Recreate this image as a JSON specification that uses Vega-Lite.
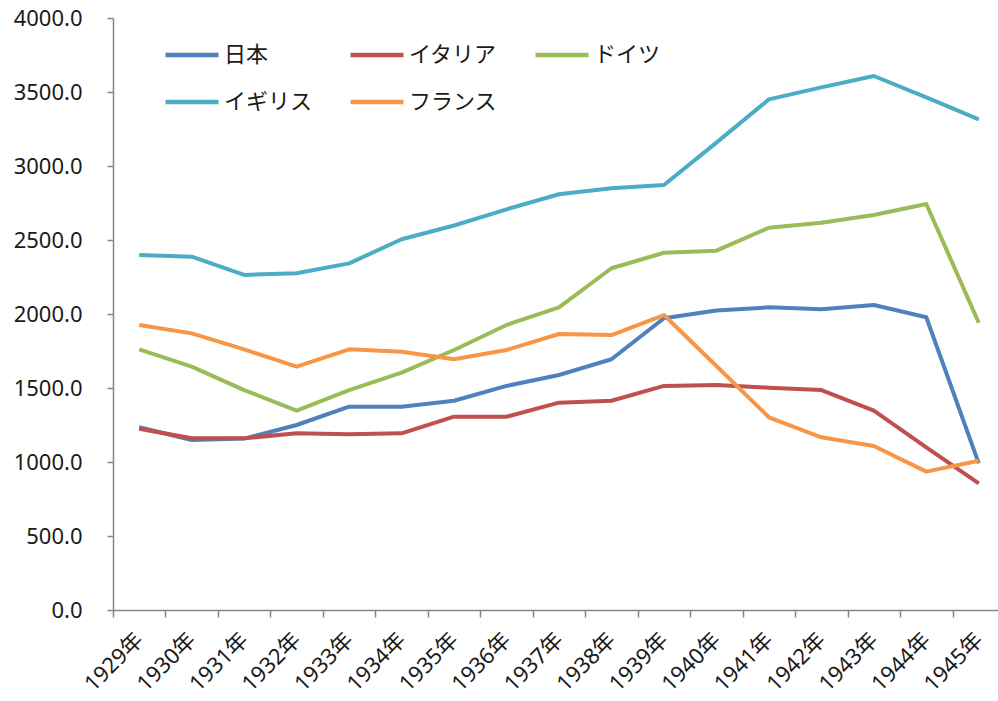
{
  "$schema": "https://vega.github.io/schema/vega-lite/v6.json",
  "autosize": {"type": "none"},
  "padding": {"left": 113, "top": 18, "right": 0, "bottom": 91},
  "width": 885,
  "height": 592,
  "background": "white",
  "config": {
    "view": {"stroke": null},
    "font": "Noto Sans CJK JP",
    "axis": {"grid": false, "domainColor": "#868686", "tickColor": "#868686", "domainWidth": 1.5, "tickWidth": 1.5, "labelColor": "#1a1a1a", "title": null}
  },
  "data": {
    "values": [
      {"year": "1929年", "country": "日本", "value": 1235},
      {"year": "1930年", "country": "日本", "value": 1149},
      {"year": "1931年", "country": "日本", "value": 1158},
      {"year": "1932年", "country": "日本", "value": 1250},
      {"year": "1933年", "country": "日本", "value": 1374},
      {"year": "1934年", "country": "日本", "value": 1374},
      {"year": "1935年", "country": "日本", "value": 1414},
      {"year": "1936年", "country": "日本", "value": 1514},
      {"year": "1937年", "country": "日本", "value": 1588},
      {"year": "1938年", "country": "日本", "value": 1694},
      {"year": "1939年", "country": "日本", "value": 1971},
      {"year": "1940年", "country": "日本", "value": 2023},
      {"year": "1941年", "country": "日本", "value": 2045},
      {"year": "1942年", "country": "日本", "value": 2032},
      {"year": "1943年", "country": "日本", "value": 2061},
      {"year": "1944年", "country": "日本", "value": 1978},
      {"year": "1945年", "country": "日本", "value": 991},
      {"year": "1929年", "country": "イタリア", "value": 1225},
      {"year": "1930年", "country": "イタリア", "value": 1160},
      {"year": "1931年", "country": "イタリア", "value": 1160},
      {"year": "1932年", "country": "イタリア", "value": 1194},
      {"year": "1933年", "country": "イタリア", "value": 1187},
      {"year": "1934年", "country": "イタリア", "value": 1194},
      {"year": "1935年", "country": "イタリア", "value": 1306},
      {"year": "1936年", "country": "イタリア", "value": 1306},
      {"year": "1937年", "country": "イタリア", "value": 1401},
      {"year": "1938年", "country": "イタリア", "value": 1414},
      {"year": "1939年", "country": "イタリア", "value": 1514},
      {"year": "1940年", "country": "イタリア", "value": 1520},
      {"year": "1941年", "country": "イタリア", "value": 1502},
      {"year": "1942年", "country": "イタリア", "value": 1486},
      {"year": "1943年", "country": "イタリア", "value": 1347},
      {"year": "1944年", "country": "イタリア", "value": 1099},
      {"year": "1945年", "country": "イタリア", "value": 856},
      {"year": "1929年", "country": "ドイツ", "value": 1761},
      {"year": "1930年", "country": "ドイツ", "value": 1644},
      {"year": "1931年", "country": "ドイツ", "value": 1486},
      {"year": "1932年", "country": "ドイツ", "value": 1347},
      {"year": "1933年", "country": "ドイツ", "value": 1486},
      {"year": "1934年", "country": "ドイツ", "value": 1604},
      {"year": "1935年", "country": "ドイツ", "value": 1757},
      {"year": "1936年", "country": "ドイツ", "value": 1926},
      {"year": "1937年", "country": "ドイツ", "value": 2045},
      {"year": "1938年", "country": "ドイツ", "value": 2309},
      {"year": "1939年", "country": "ドイツ", "value": 2414},
      {"year": "1940年", "country": "ドイツ", "value": 2428},
      {"year": "1941年", "country": "ドイツ", "value": 2583},
      {"year": "1942年", "country": "ドイツ", "value": 2617},
      {"year": "1943年", "country": "ドイツ", "value": 2669},
      {"year": "1944年", "country": "ドイツ", "value": 2743},
      {"year": "1945年", "country": "ドイツ", "value": 1941},
      {"year": "1929年", "country": "イギリス", "value": 2399},
      {"year": "1930年", "country": "イギリス", "value": 2387},
      {"year": "1931年", "country": "イギリス", "value": 2264},
      {"year": "1932年", "country": "イギリス", "value": 2275},
      {"year": "1933年", "country": "イギリス", "value": 2342},
      {"year": "1934年", "country": "イギリス", "value": 2505},
      {"year": "1935年", "country": "イギリス", "value": 2598},
      {"year": "1936年", "country": "イギリス", "value": 2707},
      {"year": "1937年", "country": "イギリス", "value": 2809},
      {"year": "1938年", "country": "イギリス", "value": 2849},
      {"year": "1939年", "country": "イギリス", "value": 2872},
      {"year": "1940年", "country": "イギリス", "value": 3158},
      {"year": "1941年", "country": "イギリス", "value": 3450},
      {"year": "1942年", "country": "イギリス", "value": 3531},
      {"year": "1943年", "country": "イギリス", "value": 3608},
      {"year": "1944年", "country": "イギリス", "value": 3464},
      {"year": "1945年", "country": "イギリス", "value": 3315},
      {"year": "1929年", "country": "フランス", "value": 1926},
      {"year": "1930年", "country": "フランス", "value": 1869},
      {"year": "1931年", "country": "フランス", "value": 1761},
      {"year": "1932年", "country": "フランス", "value": 1644},
      {"year": "1933年", "country": "フランス", "value": 1761},
      {"year": "1934年", "country": "フランス", "value": 1745},
      {"year": "1935年", "country": "フランス", "value": 1694},
      {"year": "1936年", "country": "フランス", "value": 1757},
      {"year": "1937年", "country": "フランス", "value": 1865},
      {"year": "1938年", "country": "フランス", "value": 1858},
      {"year": "1939年", "country": "フランス", "value": 1993},
      {"year": "1940年", "country": "フランス", "value": 1649},
      {"year": "1941年", "country": "フランス", "value": 1302},
      {"year": "1942年", "country": "フランス", "value": 1167},
      {"year": "1943年", "country": "フランス", "value": 1108},
      {"year": "1944年", "country": "フランス", "value": 935},
      {"year": "1945年", "country": "フランス", "value": 1009}
    ]
  },
  "mark": {"type": "line", "strokeWidth": 4, "strokeJoin": "round"},
  "encoding": {
    "x": {
      "field": "year", "type": "ordinal",
      "scale": {"type": "band", "paddingInner": 0, "paddingOuter": 0, "range": [0, 892]},
      "axis": {"tickBand": "extent", "tickSize": 7, "labelAngle": -45, "labelAlign": "right", "labelBaseline": "middle", "labelPadding": 19, "labelFontSize": 22, "labelFont": "Noto Sans, Noto Sans CJK JP"}
    },
    "y": {
      "field": "value", "type": "quantitative",
      "scale": {"domain": [0, 4000], "nice": false},
      "axis": {"values": [0, 500, 1000, 1500, 2000, 2500, 3000, 3500, 4000], "format": ".1f", "tickSize": 6, "labelPadding": 25, "labelFontSize": 22, "labelFont": "Noto Sans"}
    },
    "color": {
      "field": "country", "type": "nominal",
      "scale": {"domain": ["日本", "イタリア", "ドイツ", "イギリス", "フランス"], "range": ["#4F81BD", "#C0504D", "#9BBB59", "#4BACC6", "#F79646"]},
      "legend": {"title": null, "orient": "none", "direction": "horizontal", "legendX": 50, "legendY": 8, "columns": 3, "columnPadding": 28, "rowPadding": 7, "padding": 0, "symbolType": "stroke", "symbolSize": 2809, "symbolStrokeWidth": 4.5, "labelFontSize": 22, "labelFont": "Noto Sans CJK JP", "labelColor": "#1a1a1a", "labelOffset": 3}
    },
    "order": {"field": "year"}
  }
}
